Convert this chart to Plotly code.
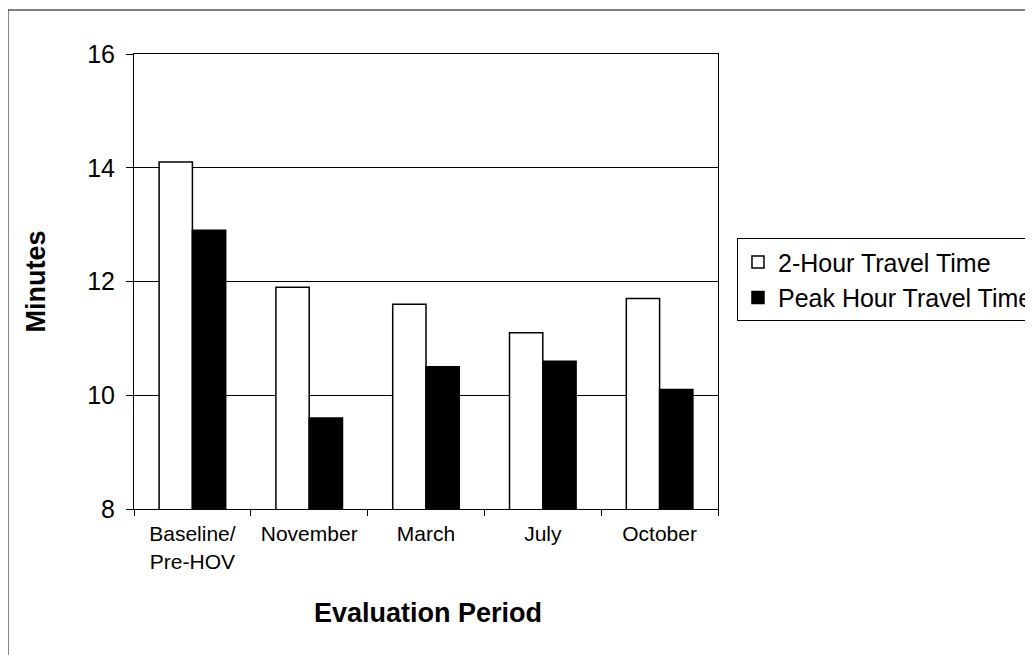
import plotly.graph_objects as go

periods = ["Baseline/<br>Pre-HOV", "November", "March", "July", "October"]
two_hour = [14.1, 11.9, 11.6, 11.1, 11.7]
peak_hour = [12.9, 9.6, 10.5, 10.6, 10.1]

FONT = "Arial, Liberation Sans, sans-serif"

fig = go.Figure()
fig.add_trace(go.Bar(
    x=periods, y=two_hour, name="2-Hour Travel Time",
    marker=dict(color="white", line=dict(color="black", width=1.5)),
))
fig.add_trace(go.Bar(
    x=periods, y=peak_hour, name="Peak Hour Travel Time",
    marker=dict(color="black", line=dict(color="black", width=1.5)),
))

# page body has an 8px margin, so shift everything up/left by 8
fig.update_layout(
    width=1033, height=655,
    margin=dict(l=126, r=323, t=46, b=154, autoexpand=False),
    paper_bgcolor="white", plot_bgcolor="white",
    barmode="group", bargap=0.43, bargroupgap=0,
    font=dict(family=FONT, color="black"),
    showlegend=True,
    legend=dict(
        x=1.0325, y=0.595, xanchor="left", yanchor="top",
        bordercolor="black", borderwidth=1,
        font=dict(size=25, family=FONT),
        tracegroupgap=0, itemwidth=30,
    ),
    xaxis=dict(
        tickfont=dict(size=21),
        tickson="boundaries", ticks="outside", ticklen=6, tickcolor="black",
        ticklabelstandoff=6,
        showline=True, linecolor="black", linewidth=1, mirror=True,
        showgrid=False,
    ),
    yaxis=dict(
        range=[8, 16], tickvals=[8, 10, 12, 14, 16],
        tickfont=dict(size=25),
        ticks="outside", ticklen=7, tickcolor="black",
        ticklabelstandoff=6,
        showline=True, linecolor="black", linewidth=1, mirror=True,
        showgrid=True, gridcolor="black", gridwidth=1,
        zeroline=False,
    ),
    annotations=[
        dict(text="<b>Evaluation Period</b>", xref="paper", yref="paper",
             x=0.503, y=-0.2286, xanchor="center", yanchor="middle",
             showarrow=False, font=dict(size=27)),
        dict(text="<b>Minutes</b>", xref="paper", yref="paper",
             x=-0.1695, y=0.5, xanchor="center", yanchor="middle",
             textangle=-90, showarrow=False, font=dict(size=27)),
    ],
    shapes=[dict(
        type="rect", xref="paper", yref="paper",
        x0=-0.2158, x1=1.5377, y0=-0.34, y1=1.0967,
        line=dict(color="black", width=1), layer="below",
    )],
)

fig.write_html("out.html")
